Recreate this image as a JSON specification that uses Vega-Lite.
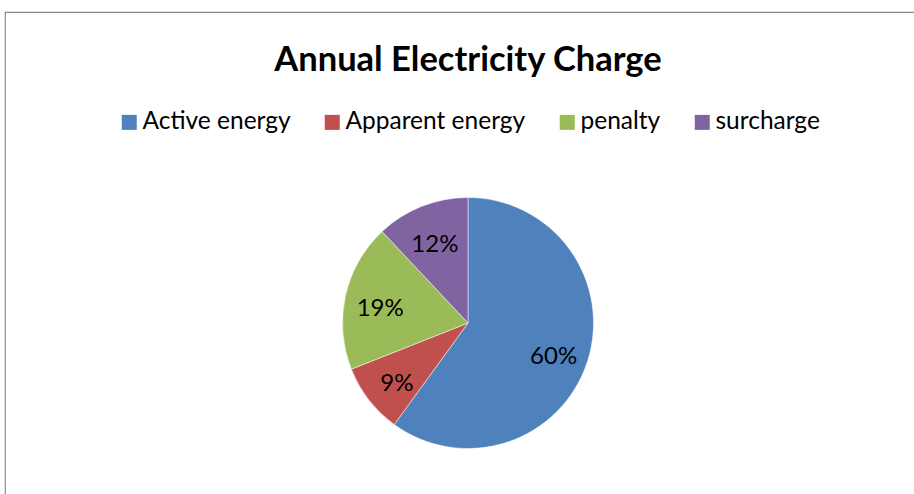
{
  "$schema": "https://vega.github.io/schema/vega-lite/v6.json",
  "width": 926,
  "height": 622,
  "autosize": {"type": "none"},
  "padding": {"left": 5, "top": 12, "right": 0, "bottom": 0},
  "background": "white",
  "view": {"stroke": "#8C8C8C", "strokeWidth": 1.2},
  "title": {
    "text": "Annual Electricity Charge",
    "font": "Lato",
    "fontSize": 34.5,
    "fontWeight": "bold",
    "color": "#000000",
    "anchor": "middle",
    "frame": "group",
    "baseline": "alphabetic",
    "offset": -58,
    "dy": 35
  },
  "data": {
    "values": [
      {"category": "Active energy", "share": 0.60, "rank": 1},
      {"category": "Apparent energy", "share": 0.09, "rank": 2},
      {"category": "penalty", "share": 0.19, "rank": 3},
      {"category": "surcharge", "share": 0.12, "rank": 4}
    ]
  },
  "encoding": {
    "theta": {"field": "share", "type": "quantitative", "stack": true},
    "order": {"field": "rank", "type": "quantitative"}
  },
  "layer": [
    {
      "mark": {"type": "arc", "outerRadius": 125.5, "stroke": "#ffffff", "strokeWidth": 0.5},
      "encoding": {
        "color": {
          "field": "category",
          "type": "nominal",
          "scale": {
            "domain": ["Active energy", "Apparent energy", "penalty", "surcharge"],
            "range": ["#4F81BD", "#C0504D", "#9BBB59", "#8064A2"]
          },
          "legend": {
            "orient": "none",
            "legendX": 112,
            "legendY": 98,
            "direction": "horizontal",
            "columns": 4,
            "title": null,
            "symbolType": "square",
            "symbolSize": 225,
            "symbolStrokeWidth": 0,
            "symbolOpacity": 1,
            "labelFont": "Lato",
            "labelFontSize": 24.5,
            "labelColor": "#000000",
            "labelOffset": 1,
            "labelLimit": 400,
            "columnPadding": 29
          }
        }
      }
    },
    {
      "mark": {"type": "text", "radius": 90, "dy": 6, "font": "Lato", "fontSize": 24, "color": "#000000"},
      "encoding": {
        "text": {"field": "share", "type": "quantitative", "format": ".0%"}
      }
    }
  ],
  "config": {
    "view": {"stroke": "#8C8C8C", "strokeWidth": 1.2}
  }
}
